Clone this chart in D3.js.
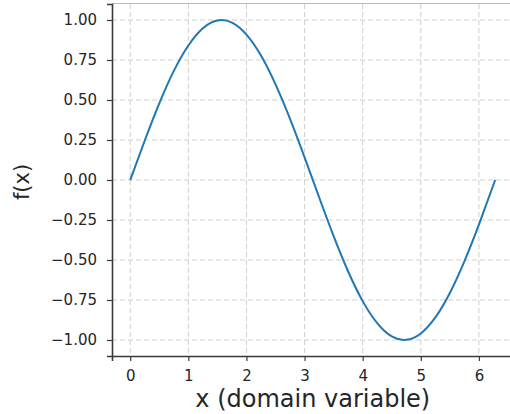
<!DOCTYPE html>
<html><head><meta charset="utf-8">
<script src="https://cdn.jsdelivr.net/npm/d3@7"></script>
<style>
html,body{margin:0;padding:0;background:#fff;}
svg{display:block;font-family:"DejaVu Sans",sans-serif;}
</style></head>
<body><svg id="c" width="510" height="414"></svg>
<script>
const xValues = [0,0.25,0.5,0.75,1.0,1.25,1.5,1.75,2.0,2.25,2.5,2.75,3.0,3.25,3.5,3.75,4.0,4.25,4.5,4.75,5.0,5.25,5.5,5.75,6.0,6.28];
const yValues = [0,0.247,0.479,0.682,0.841,0.949,0.997,0.984,0.909,0.778,0.598,0.382,0.141,-0.108,-0.351,-0.572,-0.757,-0.895,-0.978,-0.999,-0.959,-0.859,-0.706,-0.508,-0.279,0.000];
const xTicks = [0,1,2,3,4,5,6];
const yTicks = [-1.00,-0.75,-0.50,-0.25,0.00,0.25,0.50,0.75,1.00];
const xLabel = "x (domain variable)";
const yLabel = "f(x)";

const svg = d3.select("#c");
const L = 112, R = 513.6, T = 4, B = 356;
const x = d3.scaleLinear().domain([-0.314, 6.597]).range([L, R]);
const y = d3.scaleLinear().domain([-1.1, 1.1]).range([B, T]);

// grid
const grid = svg.append("g");
grid.selectAll(".gx").data(xTicks).join("line")
  .attr("x1", d => x(d)).attr("x2", d => x(d)).attr("y1", T).attr("y2", B)
  .attr("stroke", "#cfcfcf").attr("stroke-width", 1).attr("stroke-dasharray", "5,3");
grid.selectAll(".gy").data(yTicks).join("line")
  .attr("x1", L).attr("x2", R).attr("y1", d => y(d)).attr("y2", d => y(d))
  .attr("stroke", "#cfcfcf").attr("stroke-width", 1).attr("stroke-dasharray", "5,3");

// top spine (light)
svg.append("line").attr("x1", L).attr("x2", R).attr("y1", T - 0.5).attr("y2", T - 0.5)
  .attr("stroke", "#bdbdbd").attr("stroke-width", 1);

// line
const pts = xValues.map((v, i) => [v, yValues[i]]);
svg.append("path").datum(pts)
  .attr("fill", "none").attr("stroke", "#1f77b4").attr("stroke-width", 2)
  .attr("d", d3.line().x(d => x(d[0])).y(d => y(d[1])).curve(d3.curveNatural));

// axes
const fmtY = d => d3.format(".2f")(d).replace("-", "\u2212");
const xAxis = svg.append("g").attr("transform", `translate(0,${B})`)
  .call(d3.axisBottom(x).tickValues(xTicks).tickFormat(d3.format("d")).tickSize(5).tickPadding(9));
const yAxis = svg.append("g").attr("transform", `translate(${L},0)`)
  .call(d3.axisLeft(y).tickValues(yTicks).tickFormat(fmtY).tickSize(5).tickPadding(10));
[xAxis, yAxis].forEach(a => {
  a.select(".domain").attr("stroke", "#3a3a3a").attr("stroke-width", 1.6);
  a.selectAll(".tick line").attr("stroke", "#3a3a3a").attr("stroke-width", 1.2);
  a.selectAll(".tick text").attr("fill", "#262626").attr("font-size", 15)
    .attr("font-family", "DejaVu Sans");
});

svg.append("text").attr("x", (L + R) / 2).attr("y", 407).attr("text-anchor", "middle")
  .attr("font-size", 24).attr("fill", "#262626").text(xLabel);
svg.append("text").attr("transform", `translate(29,${(T + B) / 2 + 2}) rotate(-90)`)
  .attr("text-anchor", "middle").attr("font-size", 21).attr("fill", "#262626").text(yLabel);
</script></body></html>
